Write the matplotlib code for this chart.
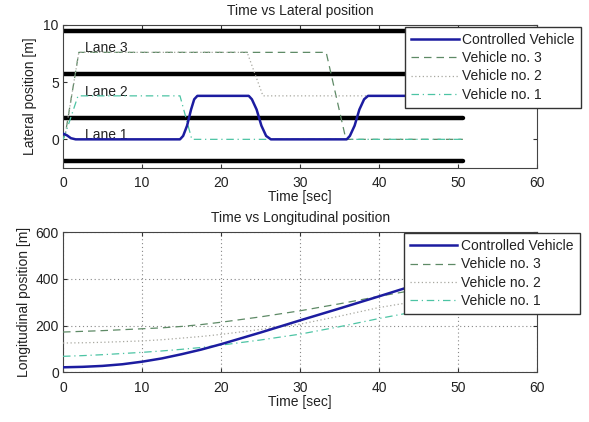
import matplotlib
matplotlib.use("Agg")
import matplotlib.pyplot as plt

plt.rcParams['font.family'] = ['Liberation Sans', 'DejaVu Sans']

# ---------------- data ----------------
# lane boundaries and lane label positions (lateral plot)
lane_bounds = [-1.9, 1.9, 5.7, 9.5]
lane_end_time = 50.6
lane_labels = ["Lane 1", "Lane 2", "Lane 3"]
lane_label_y = [0.35, 4.1, 8.0]
lane_label_t = 2.8

# lateral trajectories (time [s], lateral position [m])
ctrl_lat_t = [0, 0.5, 1.0, 1.6, 14.8, 15.2, 15.7, 16.2, 16.6, 17.0, 23.5, 23.9, 24.5, 25.1, 25.7, 26.3,
              35.9, 36.3, 36.9, 37.5, 38.1, 38.6, 50.6]
ctrl_lat_y = [0.5, 0.35, 0.1, 0.0, 0.0, 0.3, 1.2, 2.6, 3.5, 3.8, 3.8, 3.5, 2.6, 1.2, 0.3, 0.0,
              0.0, 0.3, 1.2, 2.6, 3.5, 3.8, 3.8]
veh3_lat_t = [0, 0.3, 2.0, 33.3, 35.8, 50.6]
veh3_lat_y = [0.0, 0.5, 7.6, 7.6, 0.0, 0.0]
veh2_lat_t = [0, 0.3, 2.0, 23.3, 25.3, 50.6]
veh2_lat_y = [0.0, 0.5, 7.6, 7.6, 3.8, 3.8]
veh1_lat_t = [0, 0.3, 1.9, 14.8, 16.3, 50.6]
veh1_lat_y = [0.0, 0.5, 3.8, 3.8, 0.0, 0.0]

# longitudinal trajectories (time [s], longitudinal position [m])
lon_t = [0, 2.5, 5, 7.5, 10, 12.5, 15, 17.5, 20, 25, 30, 35, 40, 45, 50.5]
ctrl_lon = [21, 23, 27, 34, 45, 59, 77, 97, 120, 170, 222, 273, 325, 378, 432]
veh3_lon = [172, 175, 178, 182, 186, 190, 196, 204, 214, 237, 263, 293, 325, 355, 388]
veh2_lon = [125, 126, 128, 131, 134, 139, 146, 153, 162, 183, 206, 240, 277, 305, 337]
veh1_lon = [68, 71, 75, 80, 85, 91, 98, 106, 116, 138, 163, 195, 230, 262, 295]

series_names = ["Controlled Vehicle", "Vehicle no. 3", "Vehicle no. 2", "Vehicle no. 1"]

# ---------------- styles ----------------
FS = 10
c_ctrl = '#1c1ca0'
c_v3 = '#5e8a66'
c_v2 = '#a8a8a0'
c_v1 = '#4cc4a4'
tick_col = '#333333'
txt_col = '#222222'

fig = plt.figure(figsize=(5.89, 4.22), dpi=100)
ax1 = fig.add_axes([0.107, 0.602, 0.805, 0.339])
ax2 = fig.add_axes([0.107, 0.118, 0.805, 0.332])


def style(ax):
    ax.tick_params(direction='in', top=True, right=True, length=3, labelsize=FS,
                   colors=tick_col, labelcolor=txt_col, pad=3)
    ax.tick_params(axis='x', pad=6)
    for s in ax.spines.values():
        s.set_color('#444444')
        s.set_linewidth(0.8)
    ax.set_xlim(0, 60)
    ax.set_xticks([0, 10, 20, 30, 40, 50, 60])


def legend(ax, anchor):
    leg = ax.legend(loc='upper left', bbox_to_anchor=anchor, borderaxespad=0,
                    fontsize=FS, handlelength=3.4, handletextpad=0.25, labelspacing=0.3,
                    borderpad=0.45, fancybox=False, framealpha=1, edgecolor='#333333')
    leg.get_frame().set_linewidth(1.0)
    for t in leg.get_texts():
        t.set_color(txt_col)
    return leg


# ----- top: lateral -----
for yb in lane_bounds:
    ax1.plot([0, lane_end_time], [yb, yb], color='black', lw=3.2, solid_capstyle='round', zorder=2)
for lab, ly in zip(lane_labels, lane_label_y):
    ax1.text(lane_label_t, ly, lab, fontsize=FS, color=txt_col, va='center', ha='left', zorder=3)

ax1.plot(ctrl_lat_t, ctrl_lat_y, color=c_ctrl, lw=1.8, label=series_names[0], zorder=4)
ax1.plot(veh3_lat_t, veh3_lat_y, color=c_v3, lw=0.9, dashes=(6, 4), label=series_names[1], zorder=3)
ax1.plot(veh2_lat_t, veh2_lat_y, color=c_v2, lw=0.9, dashes=(1, 2), label=series_names[2], zorder=3)
ax1.plot(veh1_lat_t, veh1_lat_y, color=c_v1, lw=0.9, dashes=(6, 3, 1, 3), label=series_names[3], zorder=3)

style(ax1)
ax1.set_ylim(-2.5, 10)
ax1.set_yticks([0, 5, 10])
ax1.set_title("Time vs Lateral position", fontsize=FS, pad=7, color=txt_col)
ax1.set_xlabel("Time [sec]", fontsize=FS, labelpad=0, color=txt_col)
ax1.set_ylabel("Lateral position [m]", fontsize=FS, labelpad=5, color=txt_col)
legend(ax1, (0.7215, 0.986))

# ----- bottom: longitudinal -----
ax2.plot(lon_t, ctrl_lon, color=c_ctrl, lw=1.8, label=series_names[0], zorder=4)
ax2.plot(lon_t, veh3_lon, color=c_v3, lw=0.9, dashes=(6, 4), label=series_names[1], zorder=3)
ax2.plot(lon_t, veh2_lon, color=c_v2, lw=0.9, dashes=(1, 2), label=series_names[2], zorder=3)
ax2.plot(lon_t, veh1_lon, color=c_v1, lw=0.9, dashes=(6, 3, 1, 3), label=series_names[3], zorder=3)

style(ax2)
ax2.set_ylim(0, 600)
ax2.set_yticks([0, 200, 400, 600])
ax2.grid(True, color='#888888', linestyle=(0, (1, 2.5)), linewidth=0.8)
ax2.set_axisbelow(True)
ax2.set_title("Time vs Longitudinal position", fontsize=FS, pad=7, color=txt_col)
ax2.set_xlabel("Time [sec]", fontsize=FS, labelpad=0, color=txt_col)
ax2.set_ylabel("Longitudinal position [m]", fontsize=FS, labelpad=3, color=txt_col)
legend(ax2, (0.719, 0.993))

fig.savefig("out.png", dpi=100)
